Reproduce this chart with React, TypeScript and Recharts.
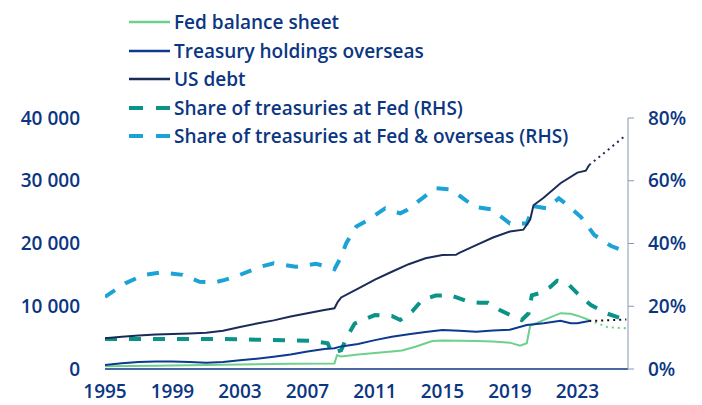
import { Legend, Line, LineChart, XAxis, YAxis } from "recharts";

// year, value (USD bn)
const usDebt: [number, number][] = [
  [1995, 4890], [1996, 5150], [1997, 5350], [1998, 5480], [1999, 5580], [2000, 5650],
  [2001, 5760], [2002, 6100], [2003, 6700], [2004, 7250], [2005, 7750], [2006, 8350],
  [2007, 8870], [2008, 9400], [2008.6, 9670], [2008.8, 10700], [2009, 11400], [2010, 12800],
  [2011, 14250], [2012, 15500], [2013, 16700], [2014, 17650], [2015, 18170], [2015.8, 18200],
  [2016, 18500], [2017, 19750], [2018, 20950], [2019, 21900], [2019.8, 22200], [2020.2, 23800],
  [2020.4, 26100], [2021, 27300], [2022, 29600], [2023, 31300], [2023.5, 31600], [2023.7, 32500],
];
const usDebtProj: [number, number][] = [[2023.7, 32500], [2025.9, 37300]];

const overseas: [number, number][] = [
  [1995, 640], [1996, 900], [1997, 1130], [1998, 1200], [1999, 1180], [2000, 1100],
  [2001, 1010], [2002, 1100], [2003, 1400], [2004, 1650], [2005, 1950], [2006, 2300],
  [2007, 2800], [2008, 3200], [2008.6, 3300], [2009, 3600], [2010, 4000], [2011, 4600],
  [2012, 5150], [2013, 5550], [2014, 5900], [2015, 6200], [2016, 6100], [2017, 5950],
  [2018, 6150], [2019, 6250], [2020, 7000], [2021, 7300], [2022, 7700], [2022.6, 7300],
  [2023, 7300], [2023.7, 7650],
];
const overseasProj: [number, number][] = [[2023.7, 7650], [2025.9, 7900]];

const fedBalance: [number, number][] = [
  [1995, 430], [1998, 520], [2001, 620], [2004, 740], [2006, 820], [2008.6, 880],
  [2008.75, 2200], [2009, 2000], [2010, 2300], [2011, 2550], [2012, 2800], [2012.6, 2950],
  [2013.4, 3550], [2014.4, 4450], [2015, 4550], [2016, 4500], [2017, 4450], [2018, 4400],
  [2019, 4200], [2019.6, 3700], [2020, 4100], [2020.2, 6900], [2021, 7800], [2022, 8900],
  [2022.6, 8800], [2023, 8500], [2023.7, 7800],
];
const fedBalanceProj: [number, number][] = [[2023.7, 7800], [2024.8, 6650], [2025.9, 6500]];

// year, % (RHS)
const shareFed: [number, number][] = [
  [1995, 9.6], [1997, 9.6], [1999, 9.6], [2001, 9.6], [2003, 9.5], [2004.2, 9.3],
  [2006, 9.1], [2007.1, 9.0], [2008.2, 8.2], [2008.45, 5.0], [2009, 6.0], [2009.3, 9.8],
  [2009.8, 14.5], [2011, 17.2], [2012, 16.9], [2012.5, 15.6], [2013.2, 18.3], [2013.8, 22.0],
  [2014.6, 23.4], [2015.5, 23.5], [2016.5, 21.5], [2017.2, 21.1], [2017.7, 21.1], [2018.4, 18.8],
  [2019, 17.2], [2019.7, 15.6], [2020.1, 17.7], [2020.3, 23.5], [2020.7, 24.1], [2021.4, 26.2],
  [2021.8, 28.1], [2022.5, 26.8], [2023, 24.1], [2023.8, 20.4], [2024.75, 17.7], [2025.55, 16.2],
];

const shareFedOverseas: [number, number][] = [
  [1995, 23.0], [1996.2, 27.3], [1997.3, 30.0], [1998.4, 30.8], [1999.6, 30.0], [2000.6, 27.8],
  [2001.5, 27.6], [2002.1, 28.4], [2003, 30.0], [2004.2, 32.6], [2005, 33.7], [2006.3, 32.6],
  [2007.5, 33.5], [2008.35, 32.4], [2008.6, 31.8], [2008.95, 35.3], [2009.3, 40.1], [2009.9, 45.4],
  [2010.6, 47.5], [2011.6, 51.2], [2012.5, 49.6], [2012.9, 50.7], [2013.8, 54.4], [2014.6, 57.6],
  [2015.5, 57.2], [2016.1, 54.9], [2016.9, 51.7], [2017.9, 50.9], [2019, 46.4], [2020, 46.4],
  [2020.4, 51.9], [2021.2, 51.2], [2021.9, 54.4], [2022.4, 52.3], [2023.2, 48.5], [2024, 42.7],
  [2025, 39.2], [2025.55, 38.1],
];

const yearTicks = [1995, 1999, 2003, 2007, 2011, 2015, 2019, 2023];
const leftTicks = [0, 10000, 20000, 30000, 40000];
const rightTicks = [0, 20, 40, 60, 80];

const colors = {
  text: "#0b3682",
  fed: "#6dd08d",
  overseas: "#0b3a8e",
  debt: "#1b2b58",
  shareFed: "#0a9488",
  shareBoth: "#1ba3d8",
  rightAxis: "#8b94b8",
};

const legendItems = [
  { label: "Fed balance sheet", color: colors.fed, dashed: false },
  { label: "Treasury holdings overseas", color: colors.overseas, dashed: false },
  { label: "US debt", color: colors.debt, dashed: false },
  { label: "Share of treasuries at Fed (RHS)", color: colors.shareFed, dashed: true },
  { label: "Share of treasuries at Fed & overseas (RHS)", color: colors.shareBoth, dashed: true },
];

const FONT = "'Open Sans', Lato, sans-serif";
const WEIGHT = 600;

const toPoints = (rows: [number, number][]) => rows.map(([t, v]) => ({ t, v }));
const fmtThousands = (v: number) => (v === 0 ? "0" : `${Math.round(v / 1000)} 000`);

function LegendBox() {
  return (
    <div style={{ fontFamily: FONT, fontSize: 19, fontWeight: WEIGHT, color: colors.text }}>
      {legendItems.map((it) => (
        <div key={it.label} style={{ display: "flex", alignItems: "center", height: 28.5 }}>
          <svg width={41} height={10} style={{ marginRight: 4 }}>
            <line
              x1={0}
              x2={41}
              y1={5}
              y2={5}
              stroke={it.color}
              strokeWidth={it.dashed ? 4 : 2.5}
              strokeDasharray={it.dashed ? "14 13" : undefined}
            />
          </svg>
          <span style={{ whiteSpace: "nowrap" }}>{it.label}</span>
        </div>
      ))}
    </div>
  );
}

export default function App() {
  const tickStyle = { fill: colors.text, fontSize: 19, fontFamily: FONT, fontWeight: WEIGHT };
  return (
    <div style={{ position: "absolute", left: 0, top: 0, width: 702, height: 405, background: "#fff", fontFamily: FONT }}>
      <LineChart width={702} height={405} margin={{ top: 118, right: 4, bottom: 6, left: 0 }}>
        <XAxis
          type="number"
          dataKey="t"
          domain={[1995, 2026]}
          ticks={yearTicks}
          allowDataOverflow
          height={30}
          tickLine={false}
          tickSize={6}
          tickMargin={10}
          axisLine={{ stroke: "#0b3682", strokeWidth: 1.5 }}
          tick={tickStyle}
        />
        <YAxis
          yAxisId="left"
          domain={[0, 40000]}
          ticks={leftTicks}
          width={105}
          axisLine={false}
          tickLine={false}
          tickSize={6}
          tickMargin={19}
          tickFormatter={fmtThousands}
          tick={tickStyle}
        />
        <YAxis
          yAxisId="right"
          orientation="right"
          domain={[0, 80]}
          ticks={rightTicks}
          width={70}
          axisLine={{ stroke: colors.rightAxis }}
          tickLine={{ stroke: colors.rightAxis }}
          tickSize={6}
          tickMargin={14}
          tickFormatter={(v: number) => `${v}%`}
          tick={tickStyle}
        />
        <Legend
          layout="horizontal"
          verticalAlign="middle"
          align="center"
          wrapperStyle={{ top: 8, left: 129, width: "auto" }}
          content={() => <LegendBox />}
        />
        <Line yAxisId="right" data={toPoints(shareFedOverseas)} dataKey="v" name="Share of treasuries at Fed & overseas (RHS)" stroke={colors.shareBoth} strokeWidth={4} strokeDasharray="12 12" dot={false} isAnimationActive={false} />
        <Line yAxisId="right" data={toPoints(shareFed)} dataKey="v" name="Share of treasuries at Fed (RHS)" stroke={colors.shareFed} strokeWidth={4} strokeDasharray="12 12" dot={false} isAnimationActive={false} />
        <Line yAxisId="left" data={toPoints(fedBalance)} dataKey="v" name="Fed balance sheet" stroke={colors.fed} strokeWidth={2} dot={false} isAnimationActive={false} />
        <Line yAxisId="left" data={toPoints(fedBalanceProj)} dataKey="v" name="Fed balance sheet (proj.)" stroke={colors.fed} strokeWidth={2} strokeDasharray="2 4" dot={false} legendType="none" isAnimationActive={false} />
        <Line yAxisId="left" data={toPoints(overseas)} dataKey="v" name="Treasury holdings overseas" stroke={colors.overseas} strokeWidth={2} dot={false} isAnimationActive={false} />
        <Line yAxisId="left" data={toPoints(overseasProj)} dataKey="v" name="Treasury holdings overseas (proj.)" stroke="#111" strokeWidth={2} strokeDasharray="2 4" dot={false} legendType="none" isAnimationActive={false} />
        <Line yAxisId="left" data={toPoints(usDebt)} dataKey="v" name="US debt" stroke={colors.debt} strokeWidth={2} dot={false} isAnimationActive={false} />
        <Line yAxisId="left" data={toPoints(usDebtProj)} dataKey="v" name="US debt (proj.)" stroke={colors.debt} strokeWidth={2} strokeDasharray="2 4" dot={false} legendType="none" isAnimationActive={false} />
      </LineChart>
    </div>
  );
}
